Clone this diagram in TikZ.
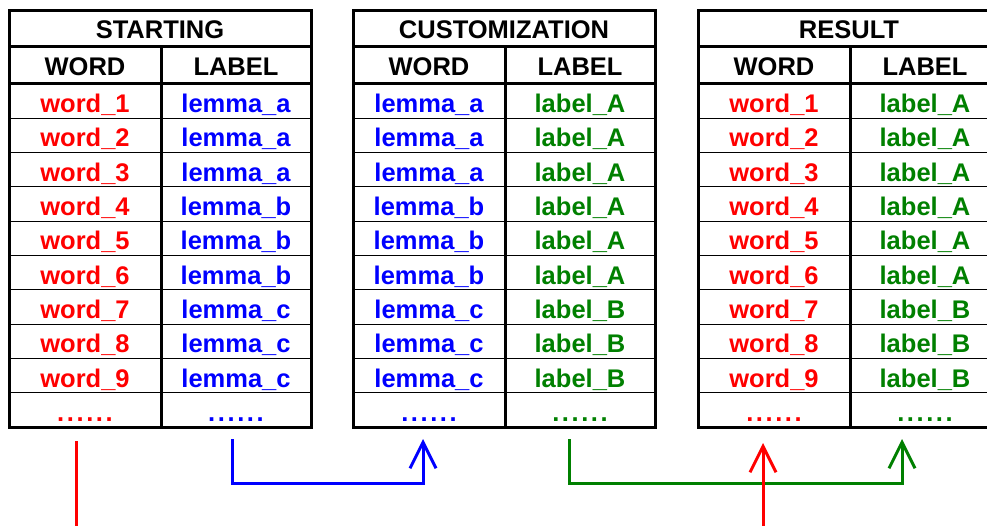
\documentclass[tikz,border=0pt]{standalone}
\usepackage{fontspec}
\setmainfont{Liberation Sans}
\usetikzlibrary{arrows.meta}
\definecolor{wred}{RGB}{255,0,0}
\definecolor{lblue}{RGB}{0,0,255}
\definecolor{lgreen}{RGB}{0,128,0}

% row of six spaced dots for the open last line of each table
\newcommand\sixdots{.\kern2.6pt.\kern2.6pt.\kern2.6pt.\kern2.6pt.\kern2.6pt.}

% One three-part table: title bar, WORD/LABEL header, ten data rows.
% #1 name prefix, #2 left edge, #3 title, #4 rows as text/colour/text/colour
\newcommand\wordtable[4]{%
  \node[titlecell, minimum width=302pt, minimum height=36pt] (#1-t) at (#2,11) {#3};
  \node[headcell, minimum width=152pt] (#1-hw) at (#2,47) {WORD};
  \node[headcell, minimum width=150pt] (#1-hl) at ({#2+152},47) {LABEL};
  \foreach \wa/\ca/\wb/\cb [count=\i from 0] in {#4} {
    \node[datacell, text=\ca, minimum width=152pt] (#1-w\i) at (#2,{84+34.3*\i}) {\wa};
    \node[datacell, text=\cb, minimum width=150pt] (#1-l\i) at ({#2+152},{84+34.3*\i}) {\wb};
  }
  \draw[frame] (#1-t.north west) rectangle (#1-l9.south east);
  \draw[frame] (#1-t.south west) -- (#1-t.south east);
  \draw[frame] (#1-hw.south west) -- (#1-hl.south east);
  \draw[frame] (#1-hl.north west) -- (#1-l9.south west);
}

\begin{document}
\begin{tikzpicture}[x=1pt, y=-1pt,
  basecell/.style={draw=black, line width=1pt, anchor=north west, inner sep=0pt, outer sep=0pt,
    text height=21pt, text depth=1pt, font=\fontsize{25.5}{25.5}\selectfont\bfseries},
  titlecell/.style={basecell},
  headcell/.style={basecell, minimum height=37pt},
  datacell/.style={basecell, minimum height=34.3pt, text height=23pt, text depth=0pt},
  frame/.style={draw=black, line width=3pt, line cap=rect},
  link/.style={line width=3pt, -{Straight Barb[length=26pt, width=26pt]}},
]
\clip (0,0) rectangle (987,526);
\fill[white] (0,0) rectangle (987,526);

\wordtable{A}{9}{STARTING}{%
  word\_1/wred/lemma\_a/lblue, word\_2/wred/lemma\_a/lblue, word\_3/wred/lemma\_a/lblue,
  word\_4/wred/lemma\_b/lblue, word\_5/wred/lemma\_b/lblue, word\_6/wred/lemma\_b/lblue,
  word\_7/wred/lemma\_c/lblue, word\_8/wred/lemma\_c/lblue, word\_9/wred/lemma\_c/lblue,
  \sixdots/wred/\sixdots/lblue}

\wordtable{B}{353}{CUSTOMIZATION}{%
  lemma\_a/lblue/label\_A/lgreen, lemma\_a/lblue/label\_A/lgreen, lemma\_a/lblue/label\_A/lgreen,
  lemma\_b/lblue/label\_A/lgreen, lemma\_b/lblue/label\_A/lgreen, lemma\_b/lblue/label\_A/lgreen,
  lemma\_c/lblue/label\_B/lgreen, lemma\_c/lblue/label\_B/lgreen, lemma\_c/lblue/label\_B/lgreen,
  \sixdots/lblue/\sixdots/lgreen}

\wordtable{C}{698}{RESULT}{%
  word\_1/wred/label\_A/lgreen, word\_2/wred/label\_A/lgreen, word\_3/wred/label\_A/lgreen,
  word\_4/wred/label\_A/lgreen, word\_5/wred/label\_A/lgreen, word\_6/wred/label\_A/lgreen,
  word\_7/wred/label\_B/lgreen, word\_8/wred/label\_B/lgreen, word\_9/wred/label\_B/lgreen,
  \sixdots/wred/\sixdots/lgreen}

% connector end points below the tables
\coordinate (ra) at (76,441);   \coordinate (rbot) at (763,560); \coordinate (rc) at (763,443);
\coordinate (ba) at (232,439);  \coordinate (bbot) at (423,483); \coordinate (bc) at (423,439);
\coordinate (ga) at (569,439);  \coordinate (gbot) at (902,483); \coordinate (gc) at (902,439);

\draw[link, lgreen] (ga) |- (gbot) -- (gc);
\draw[link, lblue] (ba) |- (bbot) -- (bc);
\draw[link, wred] (ra) |- (rbot) -- (rc);
\end{tikzpicture}
\end{document}
